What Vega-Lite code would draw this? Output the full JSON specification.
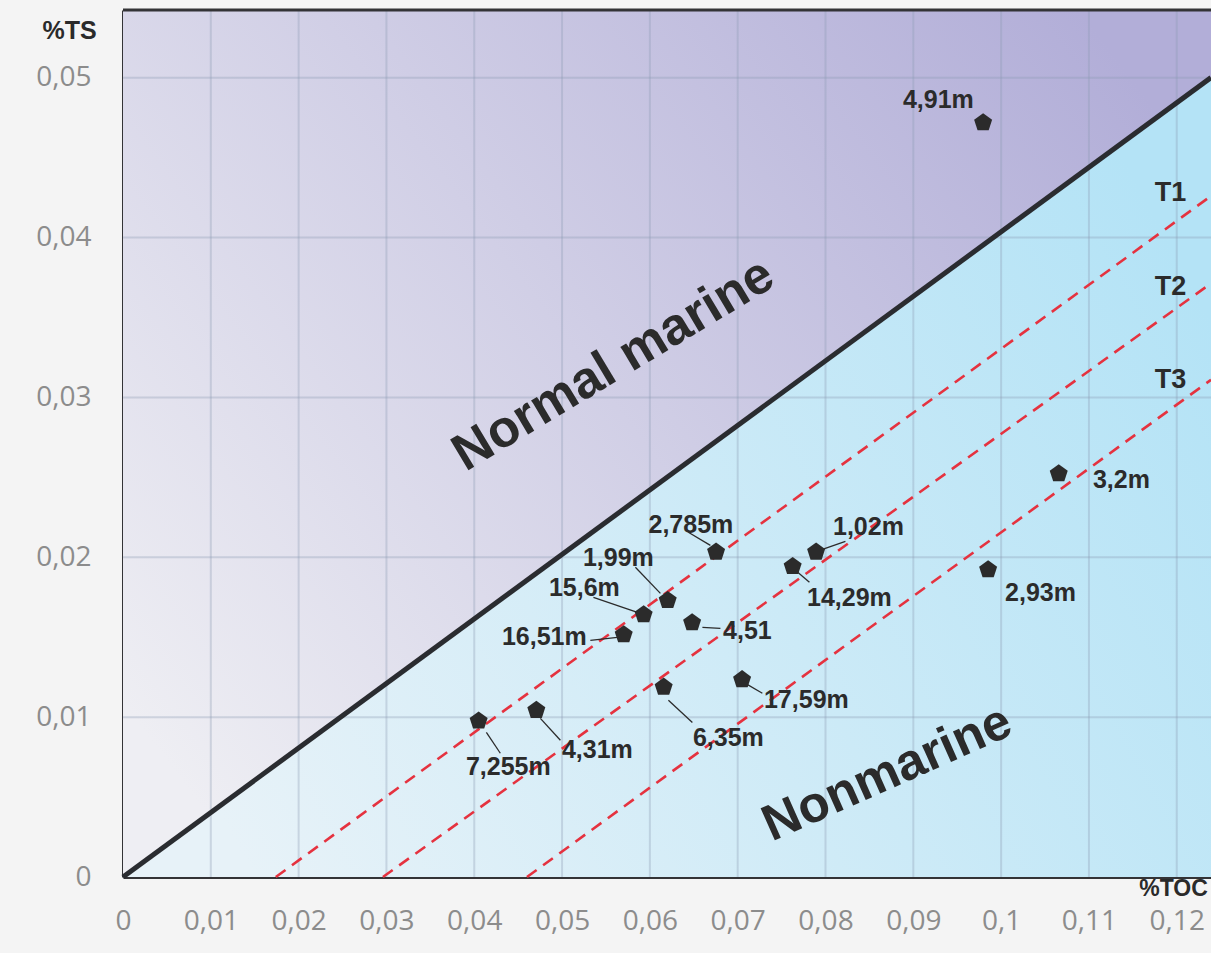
{
  "$schema": "https://vega.github.io/schema/vega-lite/v6.json",
  "width": 1088,
  "height": 867,
  "autosize": {"type": "none"},
  "padding": {"left": 123, "top": 10, "right": 0, "bottom": 76},
  "background": "#f4f4f4",
  "config": {
    "view": {"stroke": null},
    "axis": {
      "grid": false, "ticks": false, "tickSize": 0,
      "domain": true, "domainColor": "#333336", "domainWidth": 3,
      "labelFont": "Open Sans", "labelFontSize": 28, "labelColor": "#8c8c8c",
      "labelFlush": false, "labelOverlap": false,
      "labelExpr": "replace(format(datum.value, '.2~f'), '.', ',')",
      "titleFont": "Liberation Sans", "titleFontWeight": "bold", "titleColor": "#2a2a2a",
      "titleAlign": "center", "titleBaseline": "middle", "titleAngle": 0,
      "zindex": 1
    },
    "axisX": {"labelPadding": 30, "tickCount": 13, "titleX": 1050, "titleY": 11, "titleFontSize": 23},
    "axisY": {"labelPadding": 32, "tickCount": 6, "titleX": -54, "titleY": 20, "titleFontSize": 25}
  },
  "datasets": {
    "regions": [
      {"x": 0, "line": 0, "top": 0.05423, "bottom": 0},
      {"x": 0.1239, "line": 0.05, "top": 0.05423, "bottom": 0}
    ],
    "gridx": [{"v": 0.01}, {"v": 0.02}, {"v": 0.03}, {"v": 0.04}, {"v": 0.05}, {"v": 0.06}, {"v": 0.07}, {"v": 0.08}, {"v": 0.09}, {"v": 0.1}, {"v": 0.11}, {"v": 0.12}],
    "gridy": [{"v": 0.01}, {"v": 0.02}, {"v": 0.03}, {"v": 0.04}, {"v": 0.05}],
    "tlines": [
      {"line": "T1", "x": 0.0174, "y": 0},
      {"line": "T1", "x": 0.1239, "y": 0.0426},
      {"line": "T2", "x": 0.0296, "y": 0},
      {"line": "T2", "x": 0.1239, "y": 0.03713},
      {"line": "T3", "x": 0.046, "y": 0},
      {"line": "T3", "x": 0.1239, "y": 0.0311}
    ],
    "boundary": [
      {"x": 0, "y": 0},
      {"x": 0.1239, "y": 0.05}
    ],
    "tlabels": [
      {"label": "T1", "x": 0.1193, "y": 0.04276},
      {"label": "T2", "x": 0.1193, "y": 0.0369},
      {"label": "T3", "x": 0.1193, "y": 0.0311}
    ],
    "samples": [
      {"label": "4,91m", "x": 0.09795, "y": 0.04718, "lx": 0.09285, "ly": 0.04857},
      {"label": "3,2m", "x": 0.10656, "y": 0.02523, "lx": 0.1137, "ly": 0.02481},
      {"label": "2,93m", "x": 0.09852, "y": 0.01922, "lx": 0.10448, "ly": 0.01774},
      {"label": "2,785m", "x": 0.06754, "y": 0.02033, "lx": 0.06467, "ly": 0.022},
      {"label": "1,02m", "x": 0.07893, "y": 0.02033, "lx": 0.08489, "ly": 0.02187},
      {"label": "14,29m", "x": 0.07626, "y": 0.01943, "lx": 0.08272, "ly": 0.01743},
      {"label": "1,99m", "x": 0.06203, "y": 0.0173, "lx": 0.05641, "ly": 0.01993},
      {"label": "15,6m", "x": 0.05929, "y": 0.01641, "lx": 0.05254, "ly": 0.01806},
      {"label": "4,51", "x": 0.06481, "y": 0.01591, "lx": 0.07111, "ly": 0.01537},
      {"label": "16,51m", "x": 0.05702, "y": 0.01516, "lx": 0.04798, "ly": 0.01499},
      {"label": "6,35m", "x": 0.06157, "y": 0.01188, "lx": 0.06894, "ly": 0.00867},
      {"label": "17,59m", "x": 0.0705, "y": 0.01235, "lx": 0.07782, "ly": 0.01105},
      {"label": "4,31m", "x": 0.04707, "y": 0.01043, "lx": 0.05402, "ly": 0.00792},
      {"label": "7,255m", "x": 0.0405, "y": 0.00976, "lx": 0.04388, "ly": 0.00686}
    ],
    "leaders": [
      {"label": "2,785m", "x1": 0.06438, "y1": 0.02156, "x2": 0.06689, "y2": 0.02074},
      {"label": "1,02m", "x1": 0.07965, "y1": 0.02049, "x2": 0.08227, "y2": 0.02099},
      {"label": "14,29m", "x1": 0.07657, "y1": 0.01918, "x2": 0.07817, "y2": 0.01843},
      {"label": "1,99m", "x1": 0.05835, "y1": 0.01937, "x2": 0.0612, "y2": 0.01774},
      {"label": "15,6m", "x1": 0.05357, "y1": 0.01749, "x2": 0.05858, "y2": 0.01655},
      {"label": "4,51", "x1": 0.06598, "y1": 0.01562, "x2": 0.06803, "y2": 0.01555},
      {"label": "16,51m", "x1": 0.05322, "y1": 0.0148, "x2": 0.0563, "y2": 0.01499},
      {"label": "6,35m", "x1": 0.06211, "y1": 0.01105, "x2": 0.06484, "y2": 0.00967},
      {"label": "17,59m", "x1": 0.07088, "y1": 0.01211, "x2": 0.07281, "y2": 0.01149},
      {"label": "4,31m", "x1": 0.04753, "y1": 0.00992, "x2": 0.04981, "y2": 0.00855},
      {"label": "7,255m", "x1": 0.04138, "y1": 0.00905, "x2": 0.04297, "y2": 0.00774}
    ],
    "regionlabels": [
      {"label": "Normal marine", "x": 0.05584, "y": 0.03206},
      {"label": "Nonmarine", "x": 0.08705, "y": 0.00645}
    ]
  },
  "layer": [
    {
      "data": {"name": "regions"},
      "mark": {
        "type": "area",
        "color": {
          "gradient": "linear",
          "x1": 0, "y1": 0.8, "x2": 1, "y2": 0.2,
          "stops": [
            {"offset": 0, "color": "#eeeef3"},
            {"offset": 1, "color": "#b2aed8"}
          ]
        }
      },
      "encoding": {
        "x": {
          "field": "x", "type": "quantitative",
          "scale": {"domain": [0, 0.1239], "nice": false, "zero": false},
          "axis": {"title": "%TOC"}
        },
        "y": {
          "field": "line", "type": "quantitative",
          "scale": {"domain": [0, 0.05423], "nice": false, "zero": false},
          "axis": {"title": "%TS"}
        },
        "y2": {"field": "top"}
      }
    },
    {
      "data": {"name": "regions"},
      "mark": {
        "type": "area",
        "color": {
          "gradient": "linear",
          "x1": 0, "y1": 0.7, "x2": 1, "y2": 0.3,
          "stops": [
            {"offset": 0, "color": "#e7f2f8"},
            {"offset": 1, "color": "#b4e3f6"}
          ]
        }
      },
      "encoding": {
        "x": {"field": "x", "type": "quantitative", "scale": {"domain": [0, 0.1239], "nice": false, "zero": false}},
        "y": {"field": "bottom", "type": "quantitative", "scale": {"domain": [0, 0.05423], "nice": false, "zero": false}},
        "y2": {"field": "line"}
      }
    },
    {
      "data": {"name": "gridx"},
      "mark": {"type": "rule", "color": "#8d9cb2", "opacity": 0.33, "strokeWidth": 2},
      "encoding": {
        "x": {"field": "v", "type": "quantitative", "scale": {"domain": [0, 0.1239], "nice": false, "zero": false}}
      }
    },
    {
      "data": {"name": "gridy"},
      "mark": {"type": "rule", "color": "#8d9cb2", "opacity": 0.33, "strokeWidth": 2},
      "encoding": {
        "y": {"field": "v", "type": "quantitative", "scale": {"domain": [0, 0.05423], "nice": false, "zero": false}}
      }
    },
    {
      "data": {"name": "tlines"},
      "mark": {"type": "line", "color": "#e5323f", "strokeWidth": 2.6, "strokeDash": [12, 8]},
      "encoding": {
        "x": {"field": "x", "type": "quantitative", "scale": {"domain": [0, 0.1239], "nice": false, "zero": false}},
        "y": {"field": "y", "type": "quantitative", "scale": {"domain": [0, 0.05423], "nice": false, "zero": false}},
        "detail": {"field": "line"}
      }
    },
    {
      "data": {"name": "boundary"},
      "mark": {"type": "line", "color": "#2a2c30", "strokeWidth": 5},
      "encoding": {
        "x": {"field": "x", "type": "quantitative", "scale": {"domain": [0, 0.1239], "nice": false, "zero": false}},
        "y": {"field": "y", "type": "quantitative", "scale": {"domain": [0, 0.05423], "nice": false, "zero": false}}
      }
    },
    {
      "data": {"name": "regions"},
      "mark": {"type": "line", "color": "#333336", "strokeWidth": 3},
      "encoding": {
        "x": {"field": "x", "type": "quantitative", "scale": {"domain": [0, 0.1239], "nice": false, "zero": false}},
        "y": {"field": "top", "type": "quantitative", "scale": {"domain": [0, 0.05423], "nice": false, "zero": false}}
      }
    },
    {
      "data": {"name": "leaders"},
      "mark": {"type": "rule", "color": "#2b2b2b", "strokeWidth": 1.3},
      "encoding": {
        "x": {"field": "x1", "type": "quantitative", "scale": {"domain": [0, 0.1239], "nice": false, "zero": false}},
        "y": {"field": "y1", "type": "quantitative", "scale": {"domain": [0, 0.05423], "nice": false, "zero": false}},
        "x2": {"field": "x2"},
        "y2": {"field": "y2"}
      }
    },
    {
      "data": {"name": "samples"},
      "mark": {"type": "point", "shape": "M0,-1L0.951,-0.309L0.588,0.809L-0.588,0.809L-0.951,-0.309Z", "filled": true, "color": "#2b2b2b", "opacity": 1, "size": 358},
      "encoding": {
        "x": {"field": "x", "type": "quantitative", "scale": {"domain": [0, 0.1239], "nice": false, "zero": false}},
        "y": {"field": "y", "type": "quantitative", "scale": {"domain": [0, 0.05423], "nice": false, "zero": false}}
      }
    },
    {
      "data": {"name": "samples"},
      "mark": {"type": "text", "font": "Liberation Sans", "fontWeight": "bold", "fontSize": 25, "color": "#2b2b2b", "align": "center", "baseline": "middle"},
      "encoding": {
        "x": {"field": "lx", "type": "quantitative", "scale": {"domain": [0, 0.1239], "nice": false, "zero": false}},
        "y": {"field": "ly", "type": "quantitative", "scale": {"domain": [0, 0.05423], "nice": false, "zero": false}},
        "text": {"field": "label"}
      }
    },
    {
      "data": {"name": "tlabels"},
      "mark": {"type": "text", "font": "Liberation Sans", "fontWeight": "bold", "fontSize": 27, "color": "#2b2b2b", "align": "center", "baseline": "middle"},
      "encoding": {
        "x": {"field": "x", "type": "quantitative", "scale": {"domain": [0, 0.1239], "nice": false, "zero": false}},
        "y": {"field": "y", "type": "quantitative", "scale": {"domain": [0, 0.05423], "nice": false, "zero": false}},
        "text": {"field": "label"}
      }
    },
    {
      "data": {"name": "regionlabels"},
      "transform": [{"filter": "datum.label == 'Normal marine'"}],
      "mark": {"type": "text", "font": "Liberation Sans", "fontWeight": "bold", "fontSize": 52, "color": "#2b2b2b", "align": "center", "baseline": "middle", "angle": 329},
      "encoding": {
        "x": {"field": "x", "type": "quantitative", "scale": {"domain": [0, 0.1239], "nice": false, "zero": false}},
        "y": {"field": "y", "type": "quantitative", "scale": {"domain": [0, 0.05423], "nice": false, "zero": false}},
        "text": {"field": "label"}
      }
    },
    {
      "data": {"name": "regionlabels"},
      "transform": [{"filter": "datum.label == 'Nonmarine'"}],
      "mark": {"type": "text", "font": "Liberation Sans", "fontWeight": "bold", "fontSize": 51, "color": "#2b2b2b", "align": "center", "baseline": "middle", "angle": 336},
      "encoding": {
        "x": {"field": "x", "type": "quantitative", "scale": {"domain": [0, 0.1239], "nice": false, "zero": false}},
        "y": {"field": "y", "type": "quantitative", "scale": {"domain": [0, 0.05423], "nice": false, "zero": false}},
        "text": {"field": "label"}
      }
    }
  ]
}
